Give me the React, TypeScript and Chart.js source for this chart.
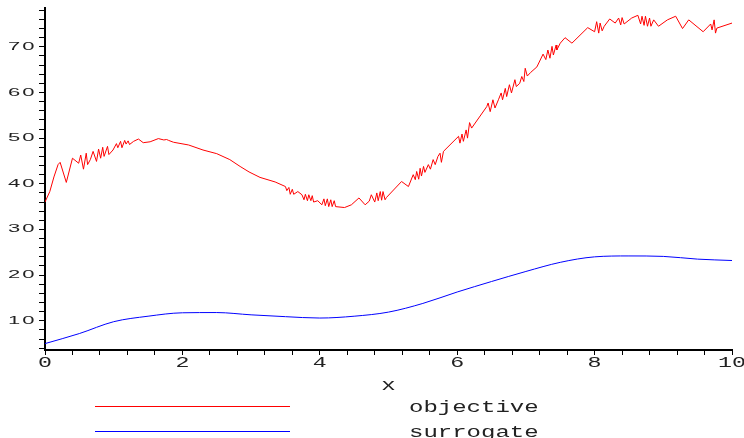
import React, { useEffect, useRef } from "react";
import { Chart, registerables } from "chart.js";

Chart.register(...registerables);

// objective (red) curve samples
const objX = [
  0.0, 0.07, 0.13, 0.19, 0.22, 0.31, 0.4, 0.49, 0.52, 0.56, 0.6, 0.62, 0.66, 0.7, 0.75, 0.78, 0.81, 0.84, 0.86,
  0.91, 0.93, 0.99, 1.04, 1.06, 1.1, 1.12, 1.16, 1.18, 1.21, 1.23, 1.29, 1.36, 1.43, 1.53, 1.65, 1.73, 1.77, 1.8,
  1.87, 2.09, 2.3, 2.5, 2.69, 2.84, 2.97, 3.13, 3.35, 3.5, 3.52, 3.55, 3.57, 3.6, 3.62, 3.68, 3.74, 3.77, 3.79,
  3.82, 3.84, 3.87, 3.89, 3.91, 3.97, 4.03, 4.06, 4.08, 4.11, 4.13, 4.16, 4.18, 4.21, 4.23, 4.36, 4.46, 4.57,
  4.66, 4.72, 4.75, 4.8, 4.83, 4.85, 4.88, 4.9, 4.92, 4.95, 4.97, 5.19, 5.29, 5.36, 5.39, 5.41, 5.44, 5.46, 5.48,
  5.51, 5.53, 5.58, 5.61, 5.65, 5.68, 5.72, 5.75, 5.77, 5.8, 6.02, 6.04, 6.07, 6.09, 6.13, 6.15, 6.18, 6.21,
  6.43, 6.45, 6.48, 6.52, 6.55, 6.6, 6.64, 6.66, 6.7, 6.72, 6.76, 6.79, 6.84, 6.86, 6.91, 6.94, 6.97, 6.99,
  7.02, 7.07, 7.16, 7.25, 7.29, 7.32, 7.35, 7.38, 7.4, 7.44, 7.45, 7.5, 7.57, 7.67, 7.9, 8.0, 8.03, 8.06, 8.08,
  8.11, 8.14, 8.22, 8.3, 8.35, 8.38, 8.4, 8.43, 8.54, 8.63, 8.67, 8.69, 8.72, 8.74, 8.77, 8.8, 8.82, 8.86,
  8.93, 9.06, 9.18, 9.28, 9.37, 9.58, 9.69, 9.71, 9.74, 9.76, 9.78, 10.0,
];
const objY = [
  36.0, 38.3, 41.5, 44.2, 44.7, 40.3, 45.6, 44.5, 46.3, 43.2, 46.7, 44.2, 45.3, 47.1, 44.9, 47.6, 45.6, 48.0, 46.0,
  48.2, 46.4, 47.4, 48.8, 47.9, 49.3, 47.9, 49.5, 48.7, 49.4, 48.6, 49.3, 49.8, 49.0, 49.2, 49.9, 49.6, 49.7, 49.5,
  49.1, 48.5, 47.4, 46.6, 45.3, 43.8, 42.6, 41.4, 40.4, 39.4, 38.5, 39.2, 37.7, 38.8, 37.7, 38.3, 37.6, 36.5, 37.7,
  36.3, 37.6, 36.3, 37.4, 36.0, 36.3, 35.4, 36.7, 35.2, 36.7, 35.0, 36.5, 35.0, 36.3, 35.0, 34.8, 35.4, 36.9,
  35.4, 36.2, 37.6, 36.0, 38.0, 36.3, 38.3, 36.4, 38.3, 36.5, 37.0, 40.5, 39.4, 42.0, 40.9, 42.7, 41.0, 43.4, 41.7,
  43.8, 42.5, 44.2, 43.2, 45.3, 44.2, 46.0, 46.7, 44.7, 47.1, 50.4, 48.9, 50.9, 49.3, 51.8, 50.0, 53.4, 52.2,
  56.9, 57.7, 55.8, 58.4, 56.6, 58.4, 59.9, 58.4, 60.9, 59.1, 61.7, 59.9, 62.8, 61.3, 62.0, 63.5, 62.4, 65.3,
  63.6, 64.4, 65.6, 68.4, 67.2, 69.3, 67.5, 70.1, 68.2, 70.4, 69.3, 70.8, 72.0, 70.8, 74.2, 73.3, 75.5, 73.0, 75.2,
  73.5, 74.5, 76.1, 75.2, 76.3, 74.8, 76.4, 75.0, 76.3, 76.9, 75.0, 76.7, 74.7, 76.7, 74.5, 76.3, 74.5, 75.9,
  74.5, 75.9, 76.7, 74.0, 75.9, 73.3, 75.0, 73.7, 75.9, 73.0, 74.1, 75.2,
];

// surrogate (blue) curve samples
const surX = [0, 0.5, 1, 1.5, 2, 2.5, 3, 3.5, 4, 4.5, 5, 5.5, 6, 6.5, 7, 7.5, 8, 8.5, 9, 9.5, 10];
const surY = [5.0, 7.2, 9.8, 11.0, 11.75, 11.8, 11.3, 10.9, 10.6, 11.0, 11.9, 13.8, 16.3, 18.6, 20.8, 22.8, 24.0, 24.2, 24.1, 23.5, 23.2];

// axis ticks and labels
const xTickLabels = [0, 2, 4, 6, 8, 10];
const xTickMarks = [0, 0.4, 0.8, 1.2, 1.6, 2, 2.4, 2.8, 3.2, 3.6, 4, 4.4, 4.8, 5.2, 5.6, 6, 6.4, 6.8, 7.2, 7.6, 8, 8.4, 8.8, 9.2, 9.6, 10];
const yTickLabels = [10, 20, 30, 40, 50, 60, 70];
const yTickMarks = [4, 6, 8, 10, 12, 14, 16, 18, 20, 22, 24, 26, 28, 30, 32, 34, 36, 38, 40, 42, 44, 46, 48, 50, 52, 54, 56, 58, 60, 62, 64, 66, 68, 70, 72, 74, 76, 78];
const xTitle = "x";
const seriesNames = ["objective", "surrogate"];
const seriesColors = ["#ff0000", "#0000ff"];

const mapleText = {
  id: "mapleText",
  afterDraw(chart: any) {
    const ctx = chart.ctx as CanvasRenderingContext2D;
    const xs = chart.scales.x;
    const ys = chart.scales.y;
    const draw = (
      text: string,
      x: number,
      y: number,
      font: string,
      sx: number,
      align: CanvasTextAlign,
      baseline: CanvasTextBaseline,
      spacing = "0px"
    ) => {
      ctx.save();
      ctx.font = font;
      ctx.fillStyle = "#222";
      ctx.textAlign = align;
      ctx.textBaseline = baseline;
      (ctx as any).letterSpacing = spacing;
      ctx.translate(x, y);
      ctx.scale(sx, 1);
      ctx.fillText(text, 0, 0);
      ctx.restore();
    };
    yTickLabels.forEach((v) => {
      draw(String(v), 36.5, ys.getPixelForValue(v), '11px "Liberation Sans"', 2.0, "right", "middle", "1px");
    });
    xTickLabels.forEach((v) => {
      draw(String(v), xs.getPixelForValue(v), 363, '15px "Liberation Mono"', 1.55, "center", "middle");
    });
    draw(xTitle, (chart.chartArea.left + chart.chartArea.right) / 2, 386, '16px "Liberation Mono"', 1.5, "center", "middle");

    const rows = [406.5, 431.5];
    seriesNames.forEach((name, i) => {
      ctx.save();
      ctx.strokeStyle = seriesColors[i];
      ctx.lineWidth = 1;
      ctx.beginPath();
      ctx.moveTo(95, rows[i]);
      ctx.lineTo(290, rows[i]);
      ctx.stroke();
      ctx.restore();
      draw(name, 409, rows[i] + 5, '16px "Liberation Mono"', 1.5, "left", "alphabetic");
    });
  },
};

export default function App() {
  const ref = useRef<HTMLCanvasElement | null>(null);
  useEffect(() => {
    if (!ref.current) return;
    const chart = new Chart(ref.current, {
      type: "line",
      data: {
        datasets: [
          {
            label: seriesNames[0],
            data: objX.map((x, i) => ({ x, y: objY[i] })),
            borderColor: seriesColors[0],
            borderWidth: 1,
            pointRadius: 0,
            tension: 0,
          },
          {
            label: seriesNames[1],
            data: surX.map((x, i) => ({ x, y: surY[i] })),
            borderColor: seriesColors[1],
            borderWidth: 1,
            pointRadius: 0,
            cubicInterpolationMode: "monotone",
          },
        ],
      },
      options: {
        animation: false,
        responsive: false,
        devicePixelRatio: 1,
        layout: { padding: { top: 8, right: 12, left: 0, bottom: 0 } },
        plugins: { legend: { display: false }, tooltip: { enabled: false } },
        scales: {
          x: {
            type: "linear",
            min: 0,
            max: 10,
            afterBuildTicks: (s: any) => {
              s.ticks = xTickMarks.map((value) => ({ value }));
            },
            afterFit: (s: any) => {
              s.height = 88;
            },
            ticks: { display: false },
            grid: { display: true, drawOnChartArea: false, drawTicks: true, tickLength: 5, color: "#000", lineWidth: 1 },
            border: { display: true, color: "#000", width: 2 },
          },
          y: {
            type: "linear",
            min: 3.6,
            max: 78.5,
            afterBuildTicks: (s: any) => {
              s.ticks = yTickMarks.map((value) => ({ value }));
            },
            afterFit: (s: any) => {
              s.width = 45;
            },
            ticks: { display: false },
            grid: { display: true, drawOnChartArea: false, drawTicks: true, tickLength: 6, color: "#000", lineWidth: 1 },
            border: { display: true, color: "#000", width: 2 },
          },
        },
      },
      plugins: [mapleText],
    });
    return () => chart.destroy();
  }, []);
  return (
    <div style={{ position: "fixed", left: 0, top: 0, width: 744, height: 438, background: "#fff" }}>
      <canvas ref={ref} width={744} height={438} style={{ display: "block", width: 744, height: 438 }} />
    </div>
  );
}
